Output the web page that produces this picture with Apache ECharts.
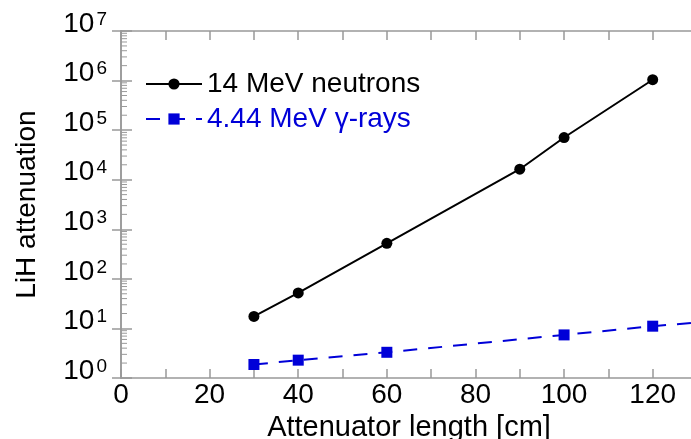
<!DOCTYPE html>
<html>
<head>
<meta charset="utf-8">
<script src="https://cdn.jsdelivr.net/npm/echarts@6/dist/echarts.min.js"></script>
<style>
  html, body {margin: 0; padding: 0; background: #fff;}
  #main {width: 691px; height: 439px;}
</style>
</head>
<body>
<div id="main"></div>
<script>
// attenuator length (cm)
const neutronLen = [30, 40, 60, 90, 100, 120];
const neutronAtt = [17.5, 52, 520, 16300, 71000, 1040000];
const gammaLen = [30, 40, 60, 100, 120, 130];
const gammaAtt = [1.87, 2.29, 3.3, 7.4, 11.1, 13.2];

const names = ['14 MeV neutrons', '4.44 MeV \u03b3-rays'];
// log minor ticks: 2..9 in every decade
const minorMant = [2, 3, 4, 5, 6, 7, 8, 9];
const decades = [1, 10, 100, 1000, 10000, 100000, 1000000];

const axisGrey = '#999999';
const blue = '#0000d8';
const fontFam = '"Liberation Sans", Arial, sans-serif';

let myChart = echarts.init(document.getElementById('main'));

const neutronData = neutronLen.map((x, i) => [x, neutronAtt[i]]);
// last gamma point is only the end of the dashed line, no marker
const gammaData = gammaLen.map((x, i) => {
    if (i === gammaLen.length - 1) return {value: [x, gammaAtt[i]], symbol: 'none'};
    return [x, gammaAtt[i]];
});

let minorData = [];
decades.forEach(d => minorMant.forEach(m => minorData.push([0, m * d])));

myChart.setOption({
    animation: false,
    textStyle: {fontFamily: fontFam},
    grid: {left: 121, top: 31, width: 576, height: 347, outerBoundsMode: 'none', containLabel: false},
    legend: {
        orient: 'vertical',
        left: 145,
        top: 70,
        padding: 0,
        itemWidth: 56,
        itemHeight: 14,
        itemGap: 7,
        data: [
            {name: names[0], textStyle: {color: '#000'}},
            {name: names[1], textStyle: {color: blue}}
        ],
        textStyle: {fontSize: 28, fontFamily: fontFam}
    },
    xAxis: [{
        type: 'value',
        min: 0, max: 130, interval: 10,
        name: 'Attenuator length [cm]',
        nameLocation: 'middle',
        nameGap: 34,
        nameTextStyle: {fontSize: 29, color: '#000', verticalAlign: 'top'},
        axisLine: {lineStyle: {color: axisGrey, width: 1.5}},
        axisTick: {inside: true, length: 9, lineStyle: {color: axisGrey, width: 1.5}},
        axisLabel: {
            fontSize: 28, color: '#000', margin: 3,
            formatter: v => (v % 20 === 0 && v <= 120) ? String(v) : ''
        },
        splitLine: {show: false}
    }, {
        type: 'value',
        position: 'top',
        min: 0, max: 130, interval: 10,
        axisLine: {lineStyle: {color: axisGrey, width: 1.5}},
        axisTick: {inside: true, length: 9, lineStyle: {color: axisGrey, width: 1.5}},
        axisLabel: {show: false},
        splitLine: {show: false}
    }],
    yAxis: [{
        type: 'log',
        min: 1, max: 1e7, logBase: 10,
        name: 'LiH attenuation',
        nameLocation: 'middle',
        nameGap: 80,
        nameTextStyle: {fontSize: 28, color: '#000'},
        axisLine: {show: true, lineStyle: {color: axisGrey, width: 1.5}},
        axisTick: {inside: true, length: 11, lineStyle: {color: axisGrey, width: 1.5}},
        axisLabel: {
            color: '#000',
            margin: 14,
            padding: [0, 0, 14, 0],
            formatter: v => '{b|10}{s|' + Math.round(Math.log10(v)) + '}',
            rich: {
                b: {fontSize: 28, lineHeight: 28, verticalAlign: 'bottom', color: '#000'},
                s: {fontSize: 19, lineHeight: 19, padding: [0, 0, 17, 2], verticalAlign: 'top', color: '#000'}
            }
        },
        splitLine: {show: false}
    }, {
        type: 'log',
        min: 1, max: 1e7, logBase: 10,
        position: 'right',
        axisLine: {show: true, lineStyle: {color: axisGrey, width: 1.5}},
        axisTick: {inside: true, length: 9, lineStyle: {color: axisGrey, width: 1.5}},
        axisLabel: {show: false},
        splitLine: {show: false}
    }],
    series: [{
        // minor ticks of the log axis (2..9 per decade)
        type: 'custom',
        silent: true,
        data: minorData,
        renderItem: function (params, api) {
            let p = api.coord([0, api.value(1)]);
            return {
                type: 'line',
                shape: {x1: p[0], y1: p[1], x2: p[0] + 6, y2: p[1]},
                style: {stroke: axisGrey, lineWidth: 1}
            };
        },
        z: 1
    }, {
        name: names[0],
        type: 'line',
        data: neutronData,
        symbol: 'circle',
        symbolSize: 11,
        color: '#000',
        lineStyle: {color: '#000', width: 2}
    }, {
        name: names[1],
        type: 'line',
        data: gammaData,
        symbol: 'rect',
        symbolSize: 11,
        color: blue,
        lineStyle: {color: blue, width: 2, type: [14, 11]}
    }]
});
</script>
</body>
</html>
